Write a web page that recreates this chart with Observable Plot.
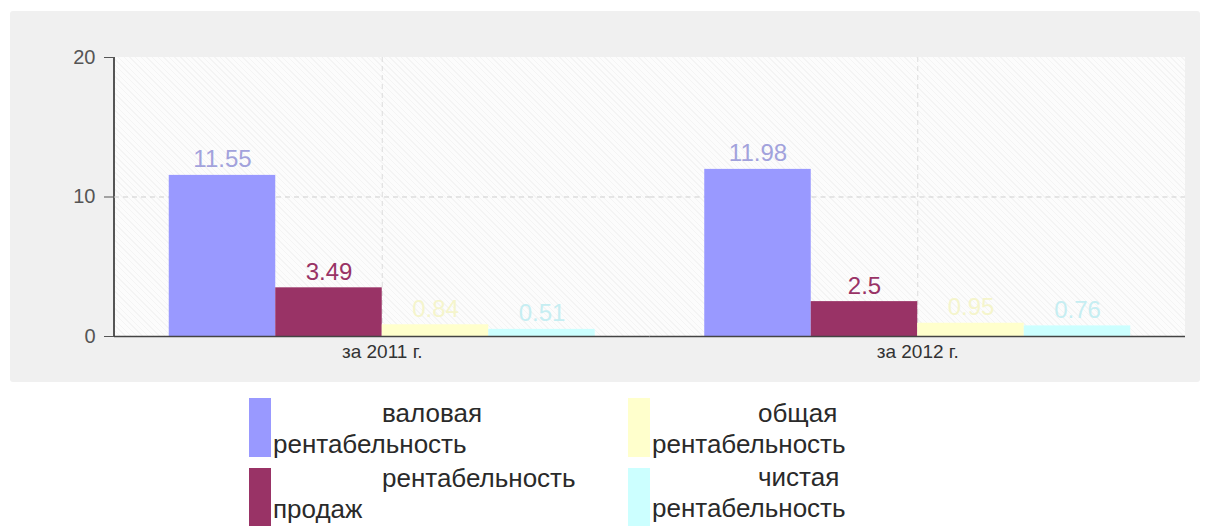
<!DOCTYPE html>
<html>
<head>
<meta charset="utf-8">
<script src="https://cdn.jsdelivr.net/npm/d3@7"></script>
<script src="https://cdn.jsdelivr.net/npm/@observablehq/plot@0.6"></script>
<style>
  html, body { margin: 0; padding: 0; background: #ffffff; }
  body { width: 1212px; height: 526px; position: relative; overflow: hidden;
         font-family: "Liberation Sans", Arial, sans-serif; }
  #panel { position: absolute; left: 10px; top: 11px; width: 1190px; height: 371px;
           background: #f0f0f0; border-radius: 3px; }
  #inner { position: absolute; left: 113px; top: 57px; width: 1072px; height: 279px;
           box-sizing: border-box; border-left: 2px solid #555;
           background: repeating-linear-gradient(45deg, #fcfcfc 0px, #fcfcfc 3px, #f4f4f4 3px, #f4f4f4 4px); }
  #chart { position: absolute; left: 0; top: 0; }
  .legend-item { position: absolute; }
  .swatch { position: absolute; left: 0; top: 0; width: 22px; height: 59px; }
  .ltext { position: absolute; left: 24px; font-size: 26px; line-height: 31px; color: #2a2a2a; white-space: nowrap; }
</style>
</head>
<body>
<div id="panel"></div>
<div id="inner"></div>
<div id="chart"></div>
<div id="legend"></div>
<script>
// ---- data ----
const years = ["за 2011 г.", "за 2012 г."];
const series = ["валовая рентабельность", "рентабельность продаж", "общая рентабельность", "чистая рентабельность"];
const values2011 = [11.55, 3.49, 0.84, 0.51];
const values2012 = [11.98, 2.5, 0.95, 0.76];
const valueLabels2011 = ["11.55", "3.49", "0.84", "0.51"];
const valueLabels2012 = ["11.98", "2.5", "0.95", "0.76"];
const yTicks = [0, 10, 20];

// ---- style ----
const barColors = ["#9999ff", "#993366", "#ffffcc", "#ccffff"];
const labelColors = ["#a2a2dc", "#993366", "#f5f5cc", "#c6eef2"];

const valuesByYear = [values2011, values2012];
const labelsByYear = [valueLabels2011, valueLabels2012];
const data = years.flatMap((year, i) => series.map((s, j) => ({
  year, series: s, value: valuesByYear[i][j], label: labelsByYear[i][j]
})));

const chart = Plot.plot({
  width: 1212,
  height: 390,
  marginLeft: 114,
  marginRight: 27,
  marginTop: 57,
  marginBottom: 54,
  style: { background: "transparent", fontFamily: "'Liberation Sans', Arial, sans-serif", overflow: "visible" },
  fx: { domain: years, padding: 0, round: false, label: null },
  x: { domain: series, paddingInner: 0, paddingOuter: 0.514, round: false, axis: null },
  y: { domain: [0, 20] },
  color: { domain: series, range: barColors },
  marks: [
    Plot.gridY([10], { stroke: "#cfcfcf", strokeOpacity: 1, strokeDasharray: "5,4" }),
    Plot.gridFx({ stroke: "#dcdcdc", strokeOpacity: 1, strokeDasharray: "5,4" }),
    Plot.barY(data, { fx: "year", x: "series", y: "value", fill: "series" }),
    ...series.map((s, j) => Plot.text(data.filter(d => d.series === s), {
      fx: "year", x: "series", y: "value", text: "label",
      fill: labelColors[j], lineAnchor: "bottom", dy: -8, fontSize: 24
    })),
    Plot.ruleY([0], { stroke: "#444", strokeWidth: 1.5 }),
    Plot.axisY({ ticks: yTicks, tickSize: 10, tickPadding: 9, fontSize: 20, color: "#555", label: null }),
    Plot.axisFx({ anchor: "bottom", tickSize: 0, tickPadding: 8, fontSize: 19, color: "#333", label: null })
  ]
});
document.getElementById("chart").appendChild(chart);

// ---- legend (HTML) ----
const legendPos = [
  { left: 249, top: 398, textTop: 0, indent: 109 },
  { left: 249, top: 468, textTop: -5, indent: 109 },
  { left: 628, top: 398, textTop: 0, indent: 106 },
  { left: 628, top: 468, textTop: -6, indent: 106 }
];
const legend = document.getElementById("legend");
series.forEach((s, j) => {
  const p = legendPos[j];
  const idx = s.indexOf(" ");
  const first = s.slice(0, idx), rest = s.slice(idx + 1);
  const item = document.createElement("div");
  item.className = "legend-item";
  item.style.left = p.left + "px";
  item.style.top = p.top + "px";
  const sw = document.createElement("div");
  sw.className = "swatch";
  sw.style.background = barColors[j];
  const tx = document.createElement("div");
  tx.className = "ltext";
  tx.style.top = p.textTop + "px";
  const l1 = document.createElement("div");
  l1.textContent = first;
  l1.style.paddingLeft = p.indent + "px";
  const l2 = document.createElement("div");
  l2.textContent = rest;
  tx.appendChild(l1); tx.appendChild(l2);
  item.appendChild(sw); item.appendChild(tx);
  legend.appendChild(item);
});
</script>
</body>
</html>
